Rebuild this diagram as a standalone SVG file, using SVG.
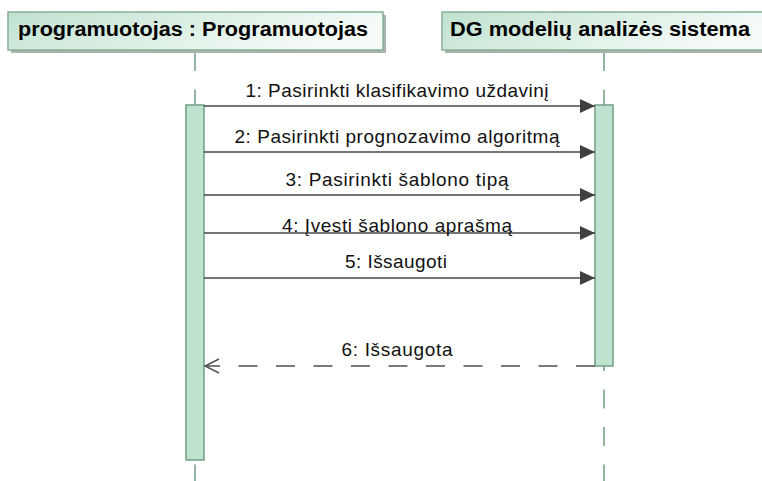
<svg xmlns="http://www.w3.org/2000/svg" width="762" height="481" viewBox="0 0 762 481">
  <defs>
    <linearGradient id="headFill" x1="0" y1="0" x2="1" y2="0.3">
      <stop offset="0" stop-color="#bfe2cf"/>
      <stop offset="1" stop-color="#f6fbf8"/>
    </linearGradient>
    <marker id="filled" markerUnits="userSpaceOnUse" markerWidth="16" markerHeight="16" refX="15" refY="8" orient="auto">
      <path d="M0,1 L15,8 L0,15 z" fill="#404040"/>
    </marker>
    <marker id="open" markerUnits="userSpaceOnUse" markerWidth="17" markerHeight="18" refX="15" refY="9" orient="auto">
      <path d="M1,2 L15,9 L1,16" fill="none" stroke="#505050" stroke-width="1.4"/>
    </marker>
  </defs>
  <style>
    .shadow { fill: #a7b5ad; }
    .head { fill: url(#headFill); stroke: #86ae98; stroke-width: 1.5; }
    .title { font-family: "Liberation Sans", Arial, sans-serif; font-weight: bold; font-size: 20px; fill: #000; }
    .life { stroke: #739d87; stroke-width: 1.5; stroke-dasharray: 19 18.5; fill: none; }
    .act { fill: #bfe3cf; stroke: #6f9f86; stroke-width: 1.5; }
    .msg { stroke: #484848; stroke-width: 1.6; fill: none; }
    .ret { stroke: #505050; stroke-width: 1.6; fill: none; stroke-dasharray: 19 18.5; }
    .lbl { font-family: "Liberation Sans", Arial, sans-serif; font-size: 19px; fill: #111; text-anchor: middle; }
  </style>

  <rect width="762" height="481" fill="#ffffff"/>

  <!-- lifelines -->
  <g id="lifelines">
    <line class="life" x1="195" y1="52" x2="195" y2="481"/>
    <line class="life" x1="604" y1="52" x2="604" y2="481"/>
  </g>

  <!-- participant: programuotojas -->
  <g id="programuotojas">
    <rect class="shadow" x="11" y="15" width="375" height="38"/>
    <rect class="head" x="8" y="12" width="375" height="38"/>
    <text class="title" x="18" y="36" textLength="350" lengthAdjust="spacingAndGlyphs">programuotojas : Programuotojas</text>
    <rect class="act" x="186" y="105" width="18" height="355"/>
  </g>

  <!-- participant: DG modelių analizės sistema -->
  <g id="sistema">
    <rect class="shadow" x="445" y="15" width="330" height="38"/>
    <rect class="head" x="442" y="12" width="330" height="38"/>
    <text class="title" x="450" y="36" textLength="300" lengthAdjust="spacingAndGlyphs">DG modelių analizės sistema</text>
    <rect class="act" x="595" y="105" width="18" height="261"/>
  </g>

  <!-- messages -->
  <g id="connectors">
    <line class="msg" x1="204" y1="106" x2="595" y2="106" marker-end="url(#filled)"/>
    <line class="msg" x1="204" y1="152" x2="595" y2="152" marker-end="url(#filled)"/>
    <line class="msg" x1="204" y1="195" x2="595" y2="195" marker-end="url(#filled)"/>
    <line class="msg" x1="204" y1="233" x2="595" y2="233" marker-end="url(#filled)"/>
    <line class="msg" x1="204" y1="278" x2="595" y2="278" marker-end="url(#filled)"/>
    <line class="ret" x1="595" y1="366" x2="205" y2="366" marker-end="url(#open)"/>
  </g>

  <g id="labels">
    <text class="lbl" x="397" y="97" textLength="303" lengthAdjust="spacing">1: Pasirinkti klasifikavimo uždavinį</text>
    <text class="lbl" x="397" y="143" textLength="325" lengthAdjust="spacing">2: Pasirinkti prognozavimo algoritmą</text>
    <text class="lbl" x="397" y="186" textLength="223" lengthAdjust="spacing">3: Pasirinkti šablono tipą</text>
    <text class="lbl" x="397" y="232" textLength="230" lengthAdjust="spacing">4: Įvesti šablono aprašmą</text>
    <text class="lbl" x="396" y="268" textLength="102" lengthAdjust="spacing">5: Išsaugoti</text>
    <text class="lbl" x="397" y="356" textLength="111" lengthAdjust="spacing">6: Išsaugota</text>
  </g>
</svg>
